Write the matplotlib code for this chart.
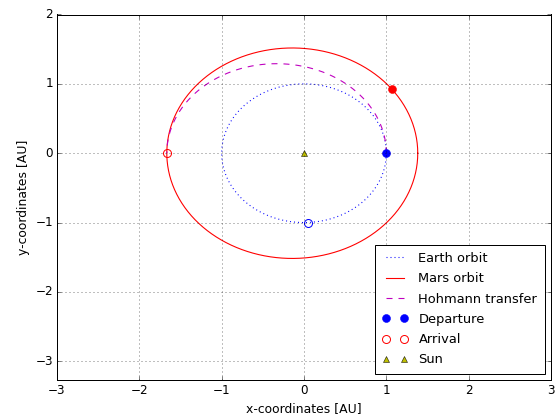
import numpy as np
import matplotlib
matplotlib.use("Agg")
import matplotlib.pyplot as plt

plt.style.use("classic")

# Orbital parameters (AU)
earth_a = 1.0
mars_a = 1.524
mars_e = 0.0934
transfer_peri = 1.0
transfer_apo = 1.666

departure_x = [1.0, 1.07]
departure_y = [0.0, 0.92]
arrival_x = [-1.666, 0.05]
arrival_y = [0.0, -1.0]
sun_x = [0.0]
sun_y = [0.0]

x_ticks = [-3, -2, -1, 0, 1, 2, 3]
y_ticks = [-3, -2, -1, 0, 1, 2]

DPI = 72
fig = plt.figure(figsize=(556 / DPI, 419 / DPI), dpi=DPI)
ax = fig.add_axes([57 / 556, 1 - 380 / 419, (551 - 57) / 556, (380 - 14.5) / 419])

lw = 1.1
t = np.linspace(0, 2 * np.pi, 400)
ax.plot(earth_a * np.cos(t), earth_a * np.sin(t), "b:", lw=lw, label="Earth orbit")
mars_b = mars_a * np.sqrt(1 - mars_e ** 2)
mars_c = mars_a * mars_e
ax.plot(mars_a * np.cos(t) - mars_c, mars_b * np.sin(t), "r-", lw=lw, label="Mars orbit")
th = np.linspace(0, np.pi, 200)
ta = (transfer_peri + transfer_apo) / 2
tc = ta - transfer_peri
tb = np.sqrt(transfer_peri * transfer_apo)
ax.plot(ta * np.cos(th) - tc, tb * np.sin(th), "m--", lw=lw, label="Hohmann transfer")

ms = 8
ax.plot(departure_x[:1], departure_y[:1], "o", color="b", mec="b", ms=ms, ls="none", label="Departure")
ax.plot(departure_x[1:], departure_y[1:], "o", color="r", mec="r", ms=ms, ls="none")
ax.plot(arrival_x[:1], arrival_y[:1], "o", mfc="none", mec="r", mew=1, ms=ms, ls="none", label="Arrival")
ax.plot(arrival_x[1:], arrival_y[1:], "o", mfc="none", mec="b", mew=1, ms=ms, ls="none")
ax.plot(sun_x, sun_y, "^", color="y", ms=6, ls="none", label="Sun")

ax.set_xlim(-3, 3)
ax.set_ylim(-3.27, 2)
ax.set_xticks(x_ticks)
ax.set_yticks(y_ticks)
ax.grid(True)
ax.set_xlabel("x-coordinates [AU]", fontsize=12.4)
ax.set_ylabel("y-coordinates [AU]", fontsize=12.4)
ax.tick_params(labelsize=12)
leg = ax.legend(loc="lower right", numpoints=2, fontsize=13, labelspacing=0.56,
                borderpad=0.55, borderaxespad=0.5)

fig.savefig("out.png", dpi=DPI)
